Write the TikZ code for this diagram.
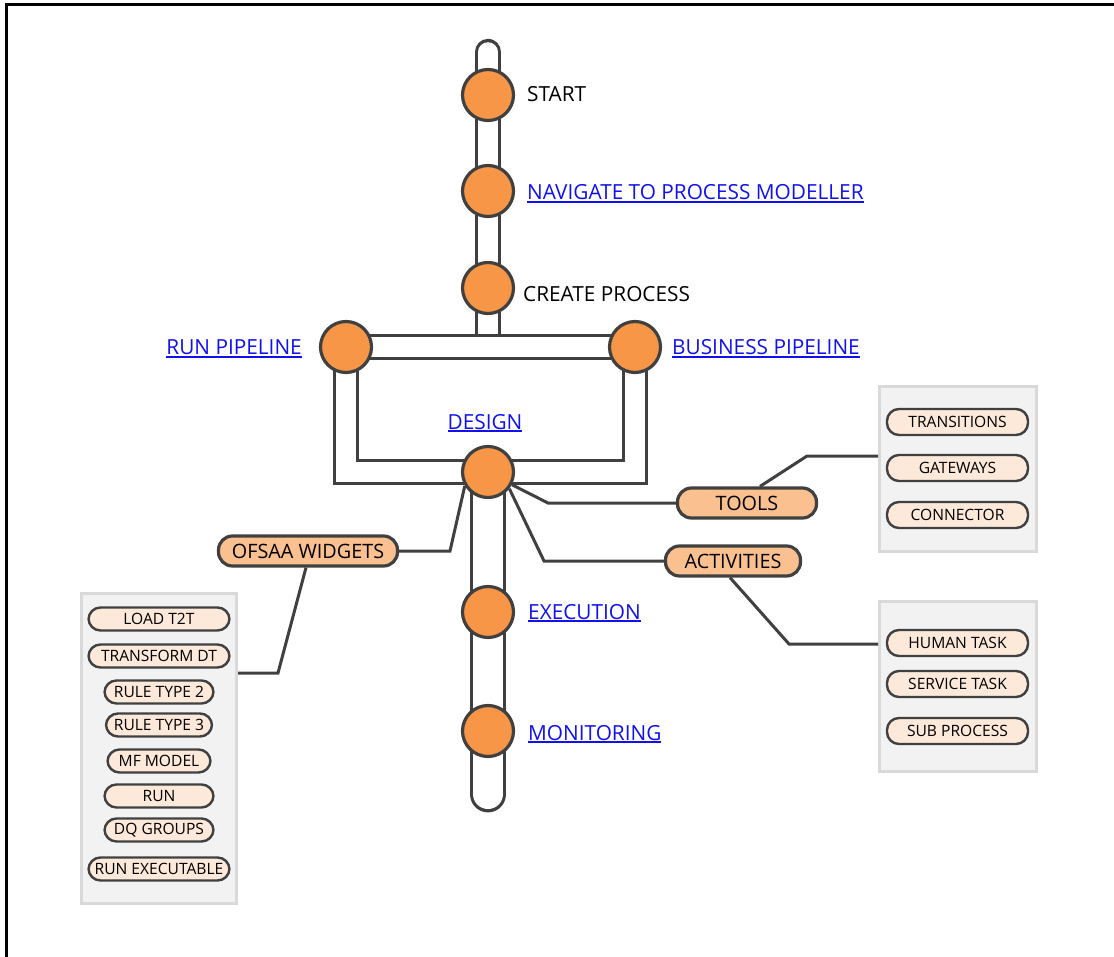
\documentclass[tikz,border=0pt]{standalone}
\usepackage{fontspec}
\setmainfont{Open Sans}
\usetikzlibrary{backgrounds}
\definecolor{linegray}{HTML}{404040}
\definecolor{stoporange}{HTML}{F79646}
\definecolor{grouporange}{HTML}{FAC090}
\definecolor{itempeach}{HTML}{FDE9D9}
\definecolor{panelfill}{HTML}{F2F2F2}
\definecolor{panelgray}{HTML}{D9D9D9}
\definecolor{linkblue}{HTML}{1010F0}
\newcommand{\lnk}[1]{\setbox0\hbox{#1}\rlap{\rule[-3pt]{\wd0}{1.6pt}}\box0}

\begin{document}
\begin{tikzpicture}[x=1pt, y=-1pt,
  stop/.style={circle, draw=linegray, line width=3.2pt, fill=stoporange, minimum size=51pt, inner sep=0pt},
  tube/.style={draw=linegray, line width=3.4pt, double=white, double distance=19.5pt},
  widetube/.style={tube, double distance=30pt},
  link/.style={draw=linegray, line width=3pt},
  lbl/.style={font=\fontsize{20.8}{24}\selectfont, text=black, inner sep=0pt},
  url/.style={lbl, text=linkblue},
  group/.style={draw=linegray, line width=3.2pt, fill=grouporange, rounded corners=14pt, minimum height=30pt, inner sep=0pt, font=\fontsize{19.8}{22}\selectfont},
  panel/.style={draw=panelgray, line width=3pt, fill=panelfill},
  item/.style={draw=linegray, line width=2.4pt, fill=itempeach, rounded corners=12pt, minimum height=26pt, inner sep=0pt, font=\fontsize{15.6}{18}\selectfont}]
 \useasboundingbox (0,0) rectangle (1114,957);
 \draw[line width=3pt] (6,957) -- (6,5) -- (1114,5);

 % stops on the main line
 \node[stop] (start) at (488,95) {};
 \node[stop] (navigate) at (488,191) {};
 \node[stop] (create) at (488,288) {};
 \node[stop] (run) at (346,347) {};
 \node[stop] (business) at (635,347) {};
 \node[stop] (design) at (488,472) {};
 \node[stop] (execution) at (488,612) {};
 \node[stop] (monitoring) at (488,731) {};
 \coordinate (top) at (488,52);
 \coordinate (join) at (488,338);
 \coordinate (bottom) at (488,794);

 \begin{pgfonlayer}{background}
  \draw[tube, line cap=round] (top) -- (join);
  \draw[tube] (run.center) -- (business.center);
  \draw[tube] (run.center) -- (run.center |- design.center) -- (business.center |- design.center) -- (business.center);
  \draw[widetube, line cap=round] (design.center) -- (bottom);
 \end{pgfonlayer}

 \node[lbl, anchor=base west] (startlbl) at (527,102) {START};
 \node[url, anchor=base west] (navigatelbl) at (527,200) {\lnk{NAVIGATE TO PROCESS MODELLER}};
 \node[lbl, anchor=base west] (createlbl) at (523,302) {CREATE PROCESS};
 \node[url, anchor=base east] (runlbl) at (302,355) {\lnk{RUN PIPELINE}};
 \node[url, anchor=base west] (businesslbl) at (672,355) {\lnk{BUSINESS PIPELINE}};
 \node[url, anchor=base] (designlbl) at (485,429) {\lnk{DESIGN}};
 \node[url, anchor=base west] (executionlbl) at (528,619) {\lnk{EXECUTION}};
 \node[url, anchor=base west] (monitoringlbl) at (528,740) {\lnk{MONITORING}};

 % design branches
 \node[group, minimum width=179pt] (widgets) at (308,551) {OFSAA WIDGETS};
 \node[group, minimum width=139pt] (tools) at (747,503) {TOOLS};
 \node[group, minimum width=135pt] (activities) at (733,561) {ACTIVITIES};

 \node[panel, minimum width=157pt, minimum height=165pt] (toolpanel) at (958,469) {};
 \node[panel, minimum width=157pt, minimum height=170pt] (actpanel) at (958,686.5) {};
 \node[panel, minimum width=155pt, minimum height=310pt] (widgetpanel) at (159,748.5) {};

 \node[item, minimum width=141pt] (transitions) at (957.5,422) {TRANSITIONS};
 \node[item, minimum width=141pt] (gateways) at (957.5,468) {GATEWAYS};
 \node[item, minimum width=141pt] (connector) at (957.5,515) {CONNECTOR};
 \node[item, minimum width=141pt] (humantask) at (957.5,643) {HUMAN TASK};
 \node[item, minimum width=141pt] (servicetask) at (957.5,684) {SERVICE TASK};
 \node[item, minimum width=141pt] (subprocess) at (957.5,731) {SUB PROCESS};

 \node[item, minimum width=141pt, minimum height=23pt] (loadtt) at (159,619) {LOAD T2T};
 \node[item, minimum width=141pt, minimum height=23pt] (transformdt) at (159,656) {TRANSFORM DT};
 \node[item, minimum width=109pt, minimum height=23pt] (ruletwo) at (159,692) {RULE TYPE 2};
 \node[item, minimum width=106pt, minimum height=23pt] (rulethree) at (159,725) {RULE TYPE 3};
 \node[item, minimum width=103pt, minimum height=23pt] (mfmodel) at (159,761) {MF MODEL};
 \node[item, minimum width=109pt, minimum height=23pt] (runitem) at (159,796) {RUN};
 \node[item, minimum width=109pt, minimum height=23pt] (dqgroups) at (159,830) {DQ GROUPS};
 \node[item, minimum width=141pt, minimum height=23pt] (runexec) at (159,869) {RUN EXECUTABLE};

 \draw[link] (design.211) -- (450,551) -- (widgets.east);
 \draw[link] (design.332) -- (548,503) -- (tools.west);
 \draw[link] (design.322) -- (544,561) -- (activities.west);
 \draw[link] ([xshift=13pt]tools.north) -- (807,456) -- (toolpanel.west |- 807,456);
 \draw[link] ([xshift=-3pt]activities.south) -- (789,644) -- (actpanel.west |- 789,644);
 \draw[link] ([xshift=-2pt]widgets.south) -- (278,673) -- (widgetpanel.east |- 278,673);
\end{tikzpicture}
\end{document}
